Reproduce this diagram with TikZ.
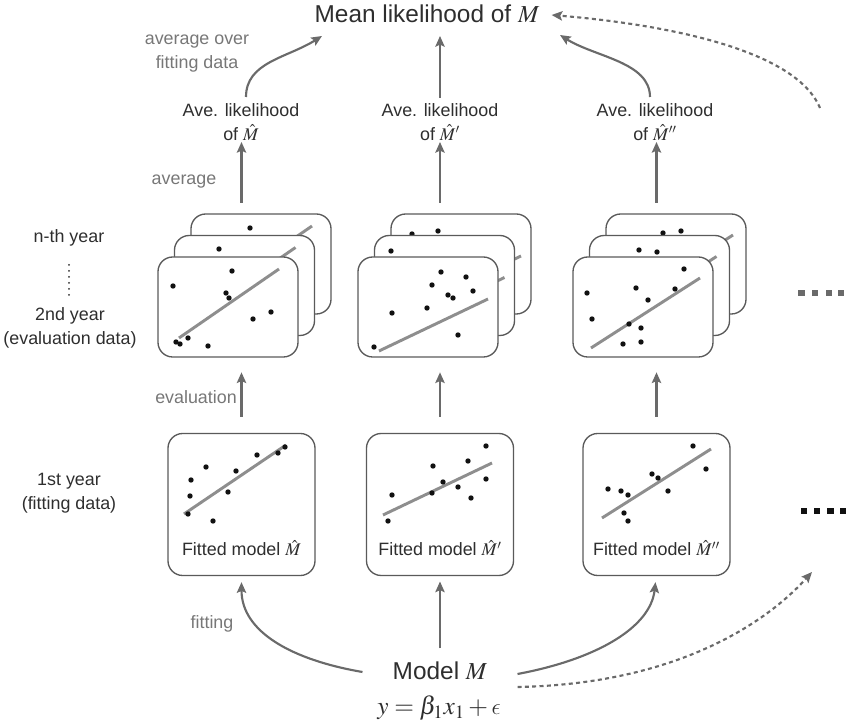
\documentclass[tikz,border=0pt]{standalone}
\usepackage{mathptmx}
\usepackage[no-math]{fontspec}
\setmainfont{Liberation Sans}
\usetikzlibrary{arrows.meta}

% lunate epsilon taken from the Computer Modern math italic font
\DeclareSymbolFont{cmletters}{OML}{cmm}{m}{it}
\DeclareMathSymbol{\lunateeps}{\mathord}{cmletters}{"0F}

\definecolor{ink}{HTML}{2E2E2E}
\definecolor{notegray}{HTML}{777777}
\definecolor{arrowc}{HTML}{6A6A6A}
\definecolor{frame}{HTML}{5A5A5A}
\definecolor{fitline}{HTML}{8E8E8E}
\definecolor{dotc}{HTML}{111111}

% scatter points of one panel
\newcommand\scatterdots[1]{\foreach \p in {#1} \fill[dotc] \p circle[radius=2.7];}

\begin{document}
\begin{tikzpicture}[x=0.75pt,y=-0.75pt,
  lbl/.style={font=\fontsize{13.4}{18}\selectfont,text=ink,align=center,inner sep=0pt},
  notelbl/.style={lbl,text=notegray},
  big/.style={font=\fontsize{18.3}{22}\selectfont,text=ink,inner sep=0pt},
  card/.style={draw=frame,line width=1pt,fill=white,rounded corners=11pt,
    minimum width=105pt,minimum height=75pt,inner sep=0pt},
  fitcard/.style={card,minimum width=110.25pt,minimum height=106.5pt},
  arr/.style={draw=arrowc,line width=1.6pt,-{Stealth[length=8pt,width=7pt,inset=1.5pt]}},
  dasharr/.style={arr,dash pattern=on 3pt off 2.5pt},
  reg/.style={draw=fitline,line width=2.2pt},
]
\useasboundingbox (0,0) rectangle (851,723);

% ---------- top: mean likelihood ----------
\node[big] (title) at (427,14) {Mean likelihood of $M$};

\node[lbl,anchor=north] (ave1) at (241,103) {Ave. likelihood\\of $\hat{M}$};
\node[lbl,anchor=north] (ave2) at (440,103) {Ave. likelihood\\of $\hat{M}'$};
\node[lbl,anchor=north] (ave3) at (655,103) {Ave. likelihood\\of $\hat{M}''$};

\node[notelbl] (avgover) at (197,54) {average over\\fitting data};
\node[notelbl] (avg) at (184,182) {average};
\node[notelbl] (evl) at (196,397) {evaluation};
\node[notelbl] (fitl) at (212,624) {fitting};

% ---------- year labels ----------
\node[lbl] (nth) at (69,238) {n-th year};
\foreach \yy in {265,271,...,295} \fill[ink] (69,\yy) circle[radius=1];
\node[lbl] (second) at (70,328) {2nd year\\(evaluation data)};
\node[lbl] (first) at (69,493) {1st year\\(fitting data)};

% ---------- column 1: evaluation years ----------
\node[card] (s1c) at (261,264) {};
\draw[reg] (212,295) -- (312,226);
\scatterdots{(250,228)}
\node[card] (s1b) at (244.5,285.5) {};
\draw[reg] (195.5,316.5) -- (295.5,247.5);
\scatterdots{(219,249)}
\node[card] (s1a) at (228,307) {};
\draw[reg] (179,338) -- (279,269);
\scatterdots{(232,271),(173,286),(226,293),(229,298),(271,312),(253,319),(188,338),(176,342),(180,344),(208,346)}

% ---------- column 2: evaluation years ----------
\node[card] (s2c) at (461,264) {};
\draw[reg] (412,308) -- (521,256);
\scatterdots{(438,231),(412,234)}
\node[card] (s2b) at (444.5,285.5) {};
\draw[reg] (395.5,329.5) -- (504.5,277.5);
\scatterdots{(391,251)}
\node[card] (s2a) at (428,307) {};
\draw[reg] (379,351) -- (488,299);
\scatterdots{(441,272),(466,277),(432,285),(473,291),(448,295),(453,298),(427,308),(392,313),(458,335),(374,347)}

% ---------- column 3: evaluation years ----------
\node[card] (s3c) at (676,264) {};
\draw[reg] (624,305) -- (733,235);
\scatterdots{(663,233),(681,231)}
\node[card] (s3b) at (659.5,285.5) {};
\draw[reg] (607.5,326.5) -- (716.5,256.5);
\scatterdots{(639,250),(657,252)}
\node[card] (s3a) at (643,307) {};
\draw[reg] (591,348) -- (700,278);
\scatterdots{(684,269),(587,293),(636,288),(675,289),(648,300),(592,319),(629,324),(641,328),(641,342),(623,344)}

% ---------- first year: fitted models ----------
\node[fitcard] (fit1) at (241.5,504.5) {};
\draw[reg] (184,514) -- (286,445);
\scatterdots{(285,447),(278,453),(257,455),(206,467),(236,471),(191,480),(228,492),(190,496),(188,514),(213,521)}
\node[lbl] (fm1) at (241.5,548) {Fitted model $\hat{M}$};

\node[fitcard] (fit2) at (440,504.5) {};
\draw[reg] (383,515) -- (492,463);
\scatterdots{(486,446),(468,461),(433,466),(486,479),(443,482),(458,487),(392,495),(432,493),(471,498),(388,521)}
\node[lbl] (fm2) at (440,548) {Fitted model $\hat{M}'$};

\node[fitcard] (fit3) at (656.5,504.5) {};
\draw[reg] (602,518) -- (711,449);
\scatterdots{(693,446),(706,469),(652,474),(658,478),(668,491),(608,489),(621,491),(628,495),(624,513),(628,521)}
\node[lbl] (fm3) at (656.5,548) {Fitted model $\hat{M}''$};

% ---------- continuation marks ----------
\foreach \xx in {801.5,815,829,841} \fill[arrowc] (\xx-3.25,290) rectangle ++(6.5,6.5);
\foreach \xx in {804,817,830.5,843} \fill[dotc] (\xx-3.25,508) rectangle ++(6.5,6.5);

% ---------- model ----------
\node[big] (model) at (440,671) {Model $M$};
\node[font=\fontsize{19}{22}\selectfont,text=ink,inner sep=0pt] (eq) at (439,708) {$y=\beta_1x_1+\lunateeps$};

% ---------- connectors ----------
\coordinate (m1) at (322,36);
\coordinate (m3) at (560,35);
\draw[arr] ([shift={(5,-6)}]ave1.north) .. controls +(0,-35) and +(-35,22) .. (m1);
\draw[arr] ([yshift=4pt]ave2.north) -- (ave2.north |- m1);
\draw[arr] ([shift={(-5,-6)}]ave3.north) .. controls +(0,-35) and +(35,22) .. (m3);
\coordinate (dtop) at (820,108);
\draw[dasharr,shorten >=9pt] (dtop) .. controls +(-25,-60) and +(120,10) .. (title.east);

\foreach \i in {1,2,3}{
  \draw[arr,shorten <=8pt,shorten >=1pt] (fit\i.north |- s\i c.north) -- (fit\i.north |- ave\i.south);
  \draw[arr,shorten <=12pt,shorten >=11pt] (fit\i.north) -- (fit\i.north |- s\i a.south);
}

\draw[arr,shorten <=10pt,shorten >=4pt] (model.north) -- (fit2.south);
\draw[arr] ([shift={(-30,1)}]model.west) .. controls +(-70,-12) and +(0,50) .. ([shift={(0,6)}]fit1.south);
\draw[arr] ([shift={(30,3)}]model.east) .. controls +(80,-15) and +(-5,45) .. ([shift={(-1,6)}]fit3.south);
\coordinate (dbot) at (812,572);
\draw[dasharr] ([shift={(30,16)}]model.east) .. controls +(160,-3) and +(-45,50) .. (dbot);
\end{tikzpicture}
\end{document}
